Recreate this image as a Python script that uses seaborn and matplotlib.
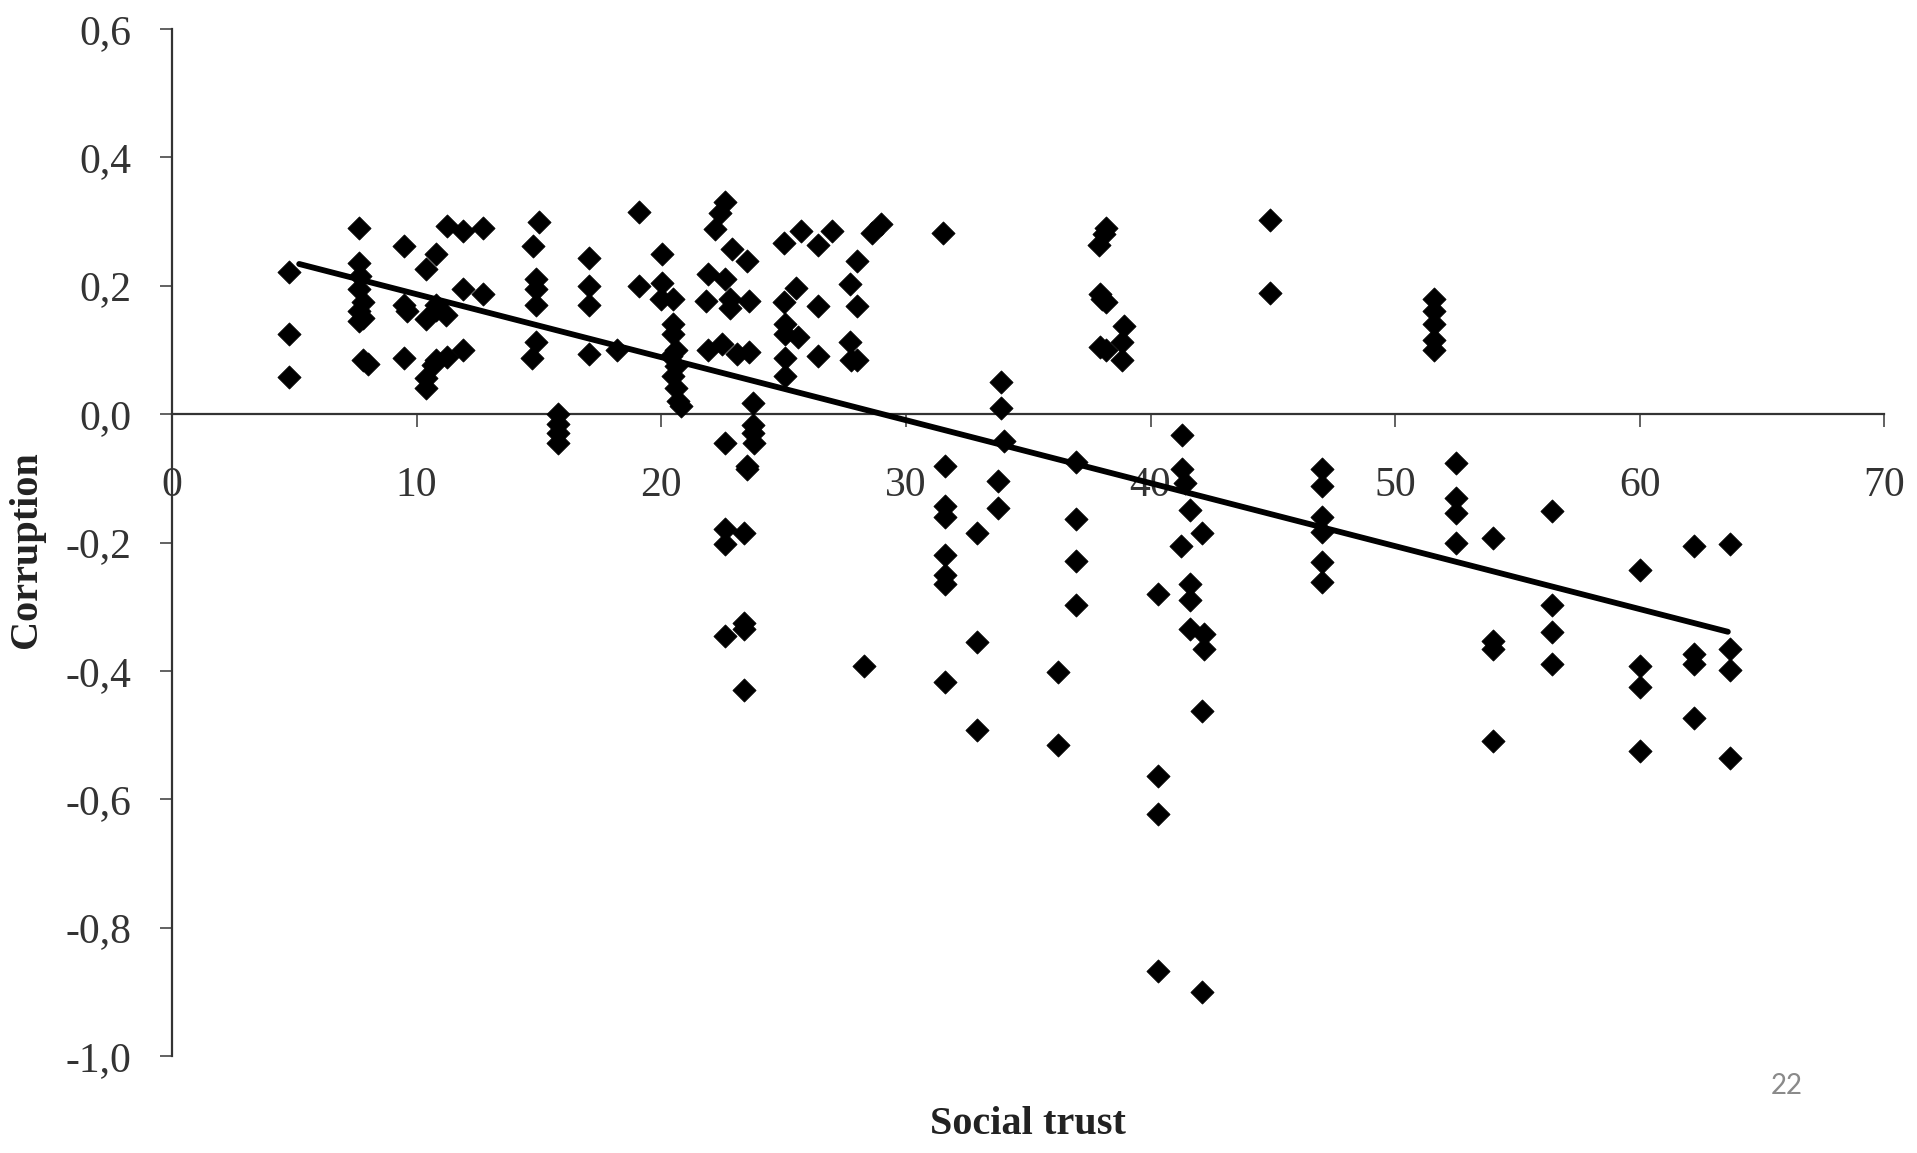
import pandas as pd
import seaborn as sns
import matplotlib.pyplot as plt

# social trust (x) and corruption (y)
trust = [
    4.8, 4.8, 4.8,
    7.65, 7.65, 7.7, 7.65, 7.8, 7.65, 7.8, 7.65, 7.8, 8.0,
    9.5, 9.5, 9.6, 9.5,
    10.8, 10.4, 10.4, 10.8, 11.2, 10.8, 11.25, 11.9, 12.7, 11.9, 12.7,
    11.9, 11.25, 10.8, 10.66, 10.4, 10.4,
    15.0, 14.75, 14.9, 14.9, 14.9, 14.9, 14.7,
    15.8, 15.8, 15.8, 15.8,
    17.06, 17.06, 17.06, 17.06,
    18.2, 19.1, 19.1,
    20.05, 20.05, 20.0, 20.5,
    20.5, 20.5, 20.6, 20.4, 20.6, 20.5, 20.6, 20.7, 20.8,
    22.6, 22.4, 22.2, 22.9, 23.5, 21.9, 22.6, 21.85, 22.8, 22.8, 23.6,
    21.9, 22.5, 23.1, 23.6,
    23.75, 23.75, 23.75, 23.8, 22.6, 23.5, 23.5, 22.6, 22.6, 23.4,
    22.6, 23.4, 23.4, 23.4,
    25.0, 25.7, 26.4, 27.0, 28.6, 29.0, 28.0, 27.7, 28.0, 26.4, 25.5,
    25.0, 25.05, 25.05, 25.6, 25.05, 25.05, 26.4, 27.7, 27.75, 28.0,
    28.3,
    31.5,
    31.6, 31.6, 31.6, 31.6, 31.6, 31.6, 31.6,
    32.9, 32.9, 32.9,
    33.9, 33.9, 34.0, 33.75, 33.75,
    36.2, 36.2,
    36.95, 36.95, 36.95, 36.95,
    38.1, 38.2, 37.9, 37.95, 38.2, 38.0, 38.9, 38.85, 37.95, 38.2, 38.85,
    40.3, 40.3, 40.3, 40.3,
    41.3, 41.3, 41.4, 41.6, 42.1, 41.25, 41.6, 41.6, 41.6, 42.2, 42.2,
    42.1, 42.1,
    44.9, 44.9,
    47.0, 47.0, 47.0, 47.0, 47.0, 47.0,
    51.6, 51.6, 51.6, 51.6, 51.6,
    52.5, 52.5, 52.5, 52.5,
    54.0, 54.0, 54.0, 54.0,
    56.4, 56.4, 56.4, 56.4,
    60.0, 60.0, 60.0, 60.0,
    62.2, 62.2, 62.2, 62.2,
    63.7, 63.7, 63.7, 63.7,
]
corruption = [
    0.222, 0.125, 0.058,
    0.29, 0.236, 0.215, 0.195, 0.175, 0.16, 0.15, 0.145, 0.085, 0.078,
    0.262, 0.17, 0.16, 0.087,
    0.25, 0.226, 0.148, 0.162, 0.154, 0.17, 0.293, 0.285, 0.29, 0.195, 0.187,
    0.1, 0.089, 0.084, 0.076, 0.056, 0.04,
    0.3, 0.262, 0.21, 0.195, 0.17, 0.112, 0.087,
    0.0, -0.015, -0.03, -0.045,
    0.244, 0.2, 0.17, 0.094,
    0.1, 0.315, 0.2,
    0.249, 0.205, 0.18, 0.18,
    0.14, 0.125, 0.1, 0.09, 0.075, 0.06, 0.04, 0.02, 0.012,
    0.331, 0.313, 0.288, 0.257, 0.239, 0.218, 0.21, 0.177, 0.18, 0.165, 0.177,
    0.1, 0.11, 0.094, 0.097,
    0.017, -0.017, -0.03, -0.045, -0.045, -0.086, -0.08, -0.179, -0.203, -0.185,
    -0.346, -0.325, -0.335, -0.429,
    0.267, 0.285, 0.264, 0.285, 0.283, 0.297, 0.239, 0.203, 0.169, 0.169, 0.197,
    0.174, 0.14, 0.125, 0.12, 0.087, 0.06, 0.09, 0.112, 0.084, 0.085,
    -0.393,
    0.282,
    -0.08, -0.143, -0.16, -0.22, -0.25, -0.265, -0.417,
    -0.185, -0.355, -0.492,
    0.05, 0.01, -0.042, -0.104, -0.146,
    -0.402, -0.515,
    -0.074, -0.164, -0.229, -0.298,
    0.28, 0.29, 0.264, 0.187, 0.174, 0.18, 0.138, 0.112, 0.105, 0.1, 0.084,
    -0.28, -0.563, -0.623, -0.867,
    -0.033, -0.086, -0.107, -0.149, -0.185, -0.205, -0.265, -0.29, -0.334, -0.342, -0.366,
    -0.462, -0.9,
    0.302, 0.189,
    -0.085, -0.112, -0.16, -0.184, -0.231, -0.261,
    0.18, 0.16, 0.14, 0.115, 0.1,
    -0.076, -0.13, -0.154, -0.2,
    -0.193, -0.354, -0.366, -0.509,
    -0.151, -0.297, -0.339, -0.389,
    -0.243, -0.392, -0.425, -0.524,
    -0.205, -0.374, -0.389, -0.473,
    -0.202, -0.366, -0.398, -0.535,
]

# trend line end points as drawn in the picture
fit_trust = [5.2, 63.6]
fit_corruption = [0.234, -0.339]

xticks = [0, 10, 20, 30, 40, 50, 60, 70]
yticks = [-1.0, -0.8, -0.6, -0.4, -0.2, 0.0, 0.2, 0.4, 0.6]
ytick_labels = ['-1,0', '-0,8', '-0,6', '-0,4', '-0,2', '0,0', '0,2', '0,4', '0,6']

points = pd.DataFrame({'Social trust': trust, 'Corruption': corruption})
fit = pd.DataFrame({'Social trust': fit_trust, 'Corruption': fit_corruption})

sns.set_style('white')
plt.rcParams['font.family'] = ['Liberation Serif', 'DejaVu Serif']

fig = plt.figure(figsize=(19.17, 11.53), dpi=100)
ax = fig.add_axes([0.0897, 0.0841, 0.8933, 0.8907])

sns.scatterplot(data=points, x='Social trust', y='Corruption', marker='D',
                color='black', s=140, edgecolor='black', linewidth=0.5, ax=ax, zorder=3)
sns.lineplot(data=fit, x='Social trust', y='Corruption', color='black',
             linewidth=4.2, ax=ax, zorder=4)

ax.set_xlim(0, 70)
ax.set_ylim(-1.0, 0.6)
ax.set_xticks(xticks)
ax.set_xticklabels([str(t) for t in xticks])
ax.set_yticks(yticks)
ax.set_yticklabels(ytick_labels)

for side in ['top', 'right']:
    ax.spines[side].set_visible(False)
ax.spines['bottom'].set_position(('data', 0))
for side in ['left', 'bottom']:
    ax.spines[side].set_color('#333333')
    ax.spines[side].set_linewidth(1.6)

ax.tick_params(axis='both', direction='out', length=9, width=1.3, color='#555555',
               labelsize=30, labelcolor='#333333')
ax.tick_params(axis='x', pad=29, bottom=True)
ax.tick_params(axis='y', pad=20, left=True)

ax.set_xlabel('Social trust', fontsize=29, fontweight='bold', color='#222222')
ax.xaxis.set_label_coords(0.5, -0.067)
ax.xaxis.label.set_va('center')
ax.set_ylabel('Corruption', fontsize=29, fontweight='bold', color='#222222')
ax.yaxis.set_label_coords(-0.0847, 0.493)
ax.yaxis.label.set_va('center')

fig.text(0.932, 0.058, '22', fontsize=20, color='#8a8a8a', family=['Lato', 'DejaVu Sans'],
         ha='center', va='center')

fig.savefig('out.png', dpi=100)
